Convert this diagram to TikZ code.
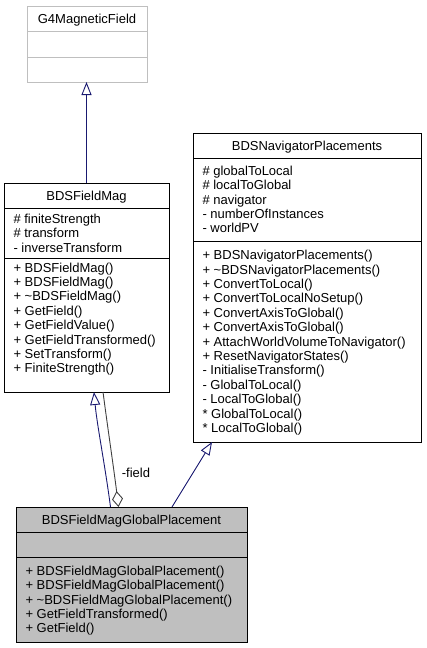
\documentclass[tikz,border=0pt]{standalone}
\usepackage{fontspec}
\setmainfont{Liberation Sans}
\usetikzlibrary{arrows.meta,calc}
\definecolor{edgeblue}{HTML}{191970}
\definecolor{boxgray}{HTML}{BFBFBF}
\definecolor{aggrgray}{HTML}{404040}
\begin{document}
\begin{tikzpicture}[x=1pt,y=-1pt,
  every node/.style={font=\fontsize{13}{14.4}\selectfont, inner sep=0pt, outer sep=0pt},
  clsbox/.style={draw=black, line width=0.9pt, anchor=north west},
  basebox/.style={draw=boxgray, line width=0.9pt, anchor=north west},
  divline/.style={line width=0.9pt},
  hdrtext/.style={anchor=base},
  sectext/.style={anchor=north west, align=left},
  inherit/.style={draw=edgeblue, line width=0.9pt, -{Triangle[open,length=13pt,width=10pt]}},
  aggr/.style={draw=aggrgray, line width=0.9pt, -{Diamond[open,length=16pt,width=11pt]}},
  lbl/.style={anchor=center}
]
\useasboundingbox (0,0) rectangle (426,648);

% G4MagneticField
\node[basebox, minimum width=120pt, minimum height=76pt] (g4) at (27,6) {};
\draw[divline, boxgray] ($(g4.north west)+(0,25.5)$) -- ($(g4.north east)+(0,25.5)$);
\draw[divline, boxgray] ($(g4.north west)+(0,51)$) -- ($(g4.north east)+(0,51)$);
\node[hdrtext] (g4h) at ($(g4.north)+(0,17.7)$) {G4MagneticField};

% BDSFieldMag
\node[clsbox, minimum width=165pt, minimum height=209pt] (fm) at (4,183) {};
\draw[divline] ($(fm.north west)+(0,25)$) -- ($(fm.north east)+(0,25)$);
\draw[divline] ($(fm.north west)+(0,75)$) -- ($(fm.north east)+(0,75)$);
\node[hdrtext] (fmh) at ($(fm.north)+(0,17.2)$) {BDSFieldMag};
\node[sectext] (fma) at ($(fm.north west)+(9.5,30.8)$) {\# finiteStrength\\\# transform\\- inverseTransform};
\node[sectext] (fmm) at ($(fm.north west)+(9.5,79.6)$) {+ BDSFieldMag()\\+ BDSFieldMag()\\+ \textasciitilde BDSFieldMag()\\+ GetField()\\+ GetFieldValue()\\+ GetFieldTransformed()\\+ SetTransform()\\+ FiniteStrength()};

% BDSNavigatorPlacements
\node[clsbox, minimum width=228pt, minimum height=309pt] (nav) at (193,133) {};
\draw[divline] ($(nav.north west)+(0,25)$) -- ($(nav.north east)+(0,25)$);
\draw[divline] ($(nav.north west)+(0,108)$) -- ($(nav.north east)+(0,108)$);
\node[hdrtext] (navh) at ($(nav.north)+(0,17.2)$) {BDSNavigatorPlacements};
\node[sectext] (nava) at ($(nav.north west)+(9.5,32.9)$) {\# globalToLocal\\\# localToGlobal\\\# navigator\\- numberOfInstances\\- worldPV};
\node[sectext] (navm) at ($(nav.north west)+(9.5,117.3)$) {+ BDSNavigatorPlacements()\\+ \textasciitilde BDSNavigatorPlacements()\\+ ConvertToLocal()\\+ ConvertToLocalNoSetup()\\+ ConvertAxisToGlobal()\\+ ConvertAxisToGlobal()\\+ AttachWorldVolumeToNavigator()\\+ ResetNavigatorStates()\\- InitialiseTransform()\\- GlobalToLocal()\\- LocalToGlobal()\\* GlobalToLocal()\\* LocalToGlobal()};

% BDSFieldMagGlobalPlacement
\node[clsbox, fill=boxgray, minimum width=231pt, minimum height=135pt] (gp) at (16,507) {};
\draw[divline] ($(gp.north west)+(0,25)$) -- ($(gp.north east)+(0,25)$);
\draw[divline] ($(gp.north west)+(0,50)$) -- ($(gp.north east)+(0,50)$);
\node[hdrtext] (gph) at ($(gp.north)+(0,17.2)$) {BDSFieldMagGlobalPlacement};
\node[sectext] (gpm) at ($(gp.north west)+(9.5,58.9)$) {+ BDSFieldMagGlobalPlacement()\\+ BDSFieldMagGlobalPlacement()\\+ \textasciitilde BDSFieldMagGlobalPlacement()\\+ GetFieldTransformed()\\+ GetField()};

% connectors
\draw[inherit] (fm.north) -- (fm.north |- g4.south);
\draw[inherit] ([xshift=-21pt]gp.north) .. controls ([xshift=-26.5pt,yshift=42pt]gp.north) and ([xshift=10.5pt,yshift=-33pt]fm.south) .. ([xshift=7.5pt]fm.south);
\draw[aggr] ([xshift=16.5pt]fm.south) .. controls ([xshift=21.5pt,yshift=-38pt]fm.south) and ([xshift=-17.5pt,yshift=37pt]gp.north) .. ([xshift=-13pt]gp.north);
\draw[inherit] ([xshift=40.5pt]gp.north) -- ([xshift=-95pt]nav.south);
\node[lbl] (fieldlbl) at (136,473) {-field};
\end{tikzpicture}
\end{document}
